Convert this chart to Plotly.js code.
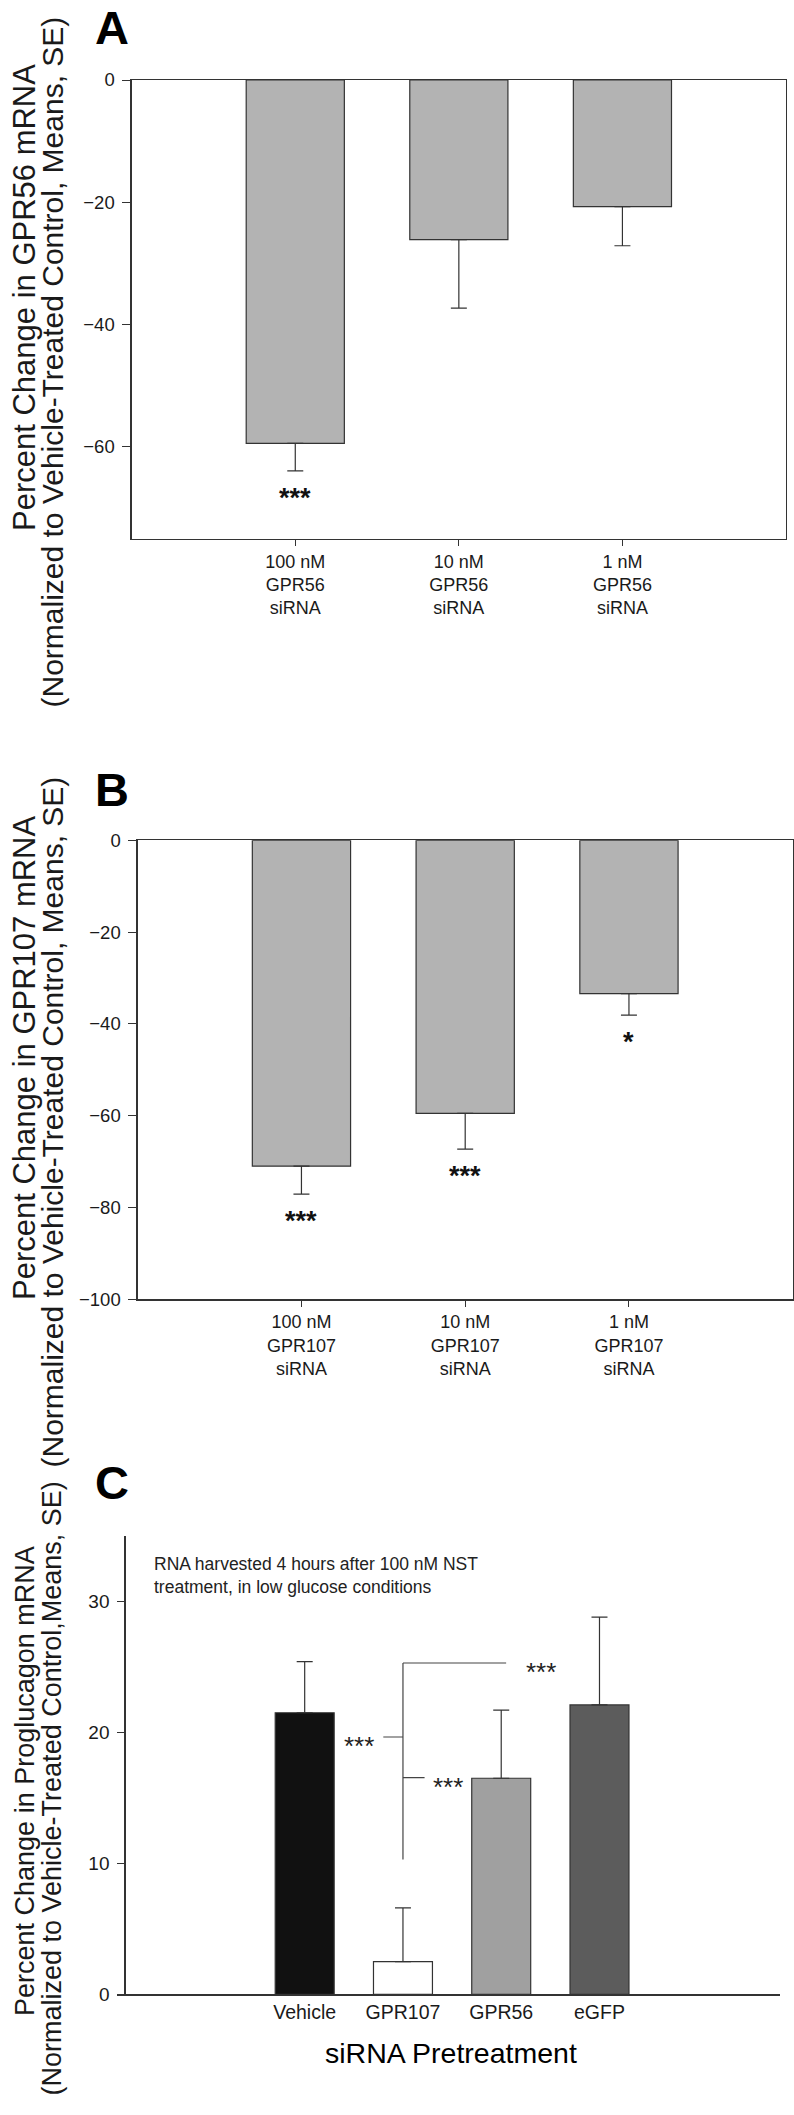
<!DOCTYPE html>
<html>
<head>
<meta charset="utf-8">
<script src="https://cdn.plot.ly/plotly-3.0.1.min.js"></script>
<style>
  html, body { margin: 0; padding: 0; background: #fff; }
  #chart { width: 794px; height: 2115px; }
</style>
</head>
<body>
<div id="chart"></div>
<script>
// ---------------- DATA ----------------
const concentrations = ['100 nM', '10 nM', '1 nM'];
const geneA = 'GPR56';
const geneB = 'GPR107';
const gpr56Change = [-59.4, -26.1, -20.7];
const gpr56SE = [4.5, 11.2, 6.4];
const gpr56Sig = ['***', '', ''];
const gpr107Change = [-71.0, -59.5, -33.4];
const gpr107SE = [6.1, 7.8, 4.7];
const gpr107Sig = ['***', '***', '*'];

const pretreatments = ['Vehicle', 'GPR107', 'GPR56', 'eGFP'];
const proglucagonChange = [21.5, 2.5, 16.5, 22.1];
const proglucagonSE = [3.9, 4.1, 5.2, 6.7];

const yTicksA = [0, -20, -40, -60];
const yTicksB = [0, -20, -40, -60, -80, -100];
const yTicksC = [0, 10, 20, 30];

// ---------------- HELPERS ----------------
const W = 794, H = 2115;
const px = v => v / W;
const py = v => 1 - v / H;
const FONT = 'Liberation Sans, Arial, Helvetica, sans-serif';
const AX = '#333333';

const catsA = concentrations.map(c => c + '<br>' + geneA + '<br>siRNA');
const catsB = concentrations.map(c => c + '<br>' + geneB + '<br>siRNA');

function negBar(cats, vals, se, xa, ya) {
  return {
    type: 'bar', x: cats, y: vals, xaxis: xa, yaxis: ya, width: 0.6,
    marker: { color: '#b3b3b3', line: { color: AX, width: 1.2 } },
    error_y: { type: 'data', symmetric: false, array: vals.map(() => 0), arrayminus: se,
               color: AX, thickness: 1.2, width: 8 },
    hoverinfo: 'none', showlegend: false
  };
}

const traces = [
  negBar(catsA, gpr56Change, gpr56SE, 'x', 'y'),
  negBar(catsB, gpr107Change, gpr107SE, 'x2', 'y2'),
  {
    type: 'bar', x: pretreatments, y: proglucagonChange, xaxis: 'x3', yaxis: 'y3', width: 0.6,
    marker: { color: ['#111111', '#ffffff', '#a0a0a0', '#5c5c5c'], line: { color: AX, width: 1.2 } },
    error_y: { type: 'data', symmetric: false, array: proglucagonSE, arrayminus: proglucagonChange.map(() => 0),
               color: AX, thickness: 1.2, width: 8 },
    hoverinfo: 'none', showlegend: false
  }
];

function boxX(domain, cats, anchor) {
  return {
    domain: domain, anchor: anchor, type: 'category', categoryorder: 'array', categoryarray: cats,
    range: [-1, 3], showline: true, linecolor: AX, linewidth: 1.3, mirror: true,
    ticks: 'outside', ticklen: 6, tickcolor: AX, tickwidth: 1,
    tickfont: { family: FONT, size: 18, color: '#1a1a1a' }, showgrid: false, zeroline: false, fixedrange: true
  };
}
function boxY(domain, range, tv, anchor) {
  return {
    domain: domain, anchor: anchor, range: range, tickmode: 'array', tickvals: tv,
    showline: true, linecolor: AX, linewidth: 1.3, mirror: true,
    ticks: 'outside', ticklen: 8, tickcolor: AX, tickwidth: 1, ticklabelstandoff: 4,
    tickfont: { family: FONT, size: 18.5, color: '#1a1a1a' }, showgrid: false, zeroline: false, fixedrange: true
  };
}

const annotations = [];
// panel letters
[['A', 27], ['B', 789.5], ['C', 1482]].forEach(([t, y]) => annotations.push({
  text: '<b>' + t + '</b>', xref: 'paper', yref: 'paper', x: px(112), y: py(y),
  xanchor: 'center', yanchor: 'middle', showarrow: false, font: { family: FONT, size: 47, color: '#000' }
}));
// y titles (two lines each)
function yLine(t, x, cy, size) {
  annotations.push({
    text: t, xref: 'paper', yref: 'paper', x: px(x), y: py(cy), xanchor: 'center', yanchor: 'middle',
    textangle: -90, showarrow: false, font: { family: FONT, size: size, color: '#1a1a1a' }
  });
}
yLine('Percent Change in GPR56 mRNA', 25, 298, 31);
yLine('(Normalized to Vehicle-Treated Control, Means, SE)', 51.5, 362, 30);
yLine('Percent Change in GPR107 mRNA', 25, 1058, 31);
yLine('(Normalized to Vehicle-Treated Control, Means, SE)', 51.5, 1122, 30);
yLine('Percent Change in Proglucagon mRNA', 25, 1781, 27);
yLine('(Normalized to Vehicle-Treated Control,Means, SE)', 51.5, 1789, 27);

// significance stars under error bars (A, B)
function stars(cats, vals, se, sig, xr, yr) {
  cats.forEach((c, i) => {
    if (!sig[i]) return;
    annotations.push({ text: sig[i], x: c, y: vals[i] - se[i], xref: xr, yref: yr, yshift: -27,
      xanchor: 'center', yanchor: 'middle', showarrow: false,
      font: { family: FONT, size: 27, color: '#111' } });
  });
}
stars(catsA, gpr56Change, gpr56SE, gpr56Sig.map(s => s ? '<b>' + s + '</b>' : ''), 'x', 'y');
stars(catsB, gpr107Change, gpr107SE, gpr107Sig.map(s => s ? '<b>' + s + '</b>' : ''), 'x2', 'y2');

// panel C note and stars
annotations.push({
  text: 'RNA harvested 4 hours after 100 nM NST<br>treatment, in low glucose conditions',
  xref: 'x3', yref: 'y3', x: -1.55, y: 31.95, xanchor: 'left', yanchor: 'middle', align: 'left',
  showarrow: false, font: { family: FONT, size: 17.5, color: '#222' }
});
[[2.4, 25.1], [0.555, 19.4], [1.46, 16.3]].forEach(([x, y]) => annotations.push({
  text: '***', xref: 'x3', yref: 'y3', x: x, y: y, yshift: -6, xanchor: 'center', yanchor: 'middle',
  showarrow: false, font: { family: FONT, size: 26, color: '#222' }
}));
// x title C
annotations.push({
  text: 'siRNA Pretreatment', xref: 'paper', yref: 'paper', x: px(451), y: py(2053),
  xanchor: 'center', yanchor: 'middle', showarrow: false, font: { family: FONT, size: 28.5, color: '#000' }
});

const BR = { color: '#444', width: 1.2 };
const shapes = [
  { type: 'line', xref: 'x3', yref: 'y3', x0: 1, x1: 1, y0: 10.3, y1: 25.3, line: BR },
  { type: 'line', xref: 'x3', yref: 'y3', x0: 1, x1: 2.05, y0: 25.3, y1: 25.3, line: BR },
  { type: 'line', xref: 'x3', yref: 'y3', x0: 0.8, x1: 1, y0: 19.65, y1: 19.65, line: BR },
  { type: 'line', xref: 'x3', yref: 'y3', x0: 1, x1: 1.22, y0: 16.55, y1: 16.55, line: BR }
];

const layout = {
  width: W, height: H, margin: { l: 0, r: 0, t: 0, b: 0 },
  paper_bgcolor: '#fff', plot_bgcolor: 'rgba(0,0,0,0)', showlegend: false,
  font: { family: FONT },
  xaxis: boxX([px(131.7), px(786)], catsA, 'y'),
  yaxis: boxY([py(538.7), py(80)], [-75, 0], yTicksA, 'x'),
  xaxis2: boxX([px(137.7), px(792.7)], catsB, 'y2'),
  yaxis2: boxY([py(1299.3), py(840.3)], [-100, 0], yTicksB, 'x2'),
  xaxis3: {
    domain: [px(117.3), px(780)], anchor: 'y3', type: 'category', categoryorder: 'array', categoryarray: pretreatments,
    range: [-1.907, 4.837], showline: true, linecolor: AX, linewidth: 1.3, ticks: '',
    tickfont: { family: FONT, size: 19.5, color: '#1a1a1a' }, showgrid: false, zeroline: false, fixedrange: true
  },
  yaxis3: {
    domain: [py(1994.3), py(1536)], anchor: 'free', position: px(124.3), range: [0, 35],
    tickmode: 'array', tickvals: yTicksC, showline: true, linecolor: AX, linewidth: 1.3,
    ticks: 'outside', ticklen: 7, tickcolor: AX, tickwidth: 1, ticklabelstandoff: 4,
    tickfont: { family: FONT, size: 19, color: '#1a1a1a' }, showgrid: false, zeroline: false, fixedrange: true
  },
  annotations: annotations,
  shapes: shapes
};

Plotly.newPlot('chart', traces, layout, { staticPlot: true, displayModeBar: false });
</script>
</body>
</html>
